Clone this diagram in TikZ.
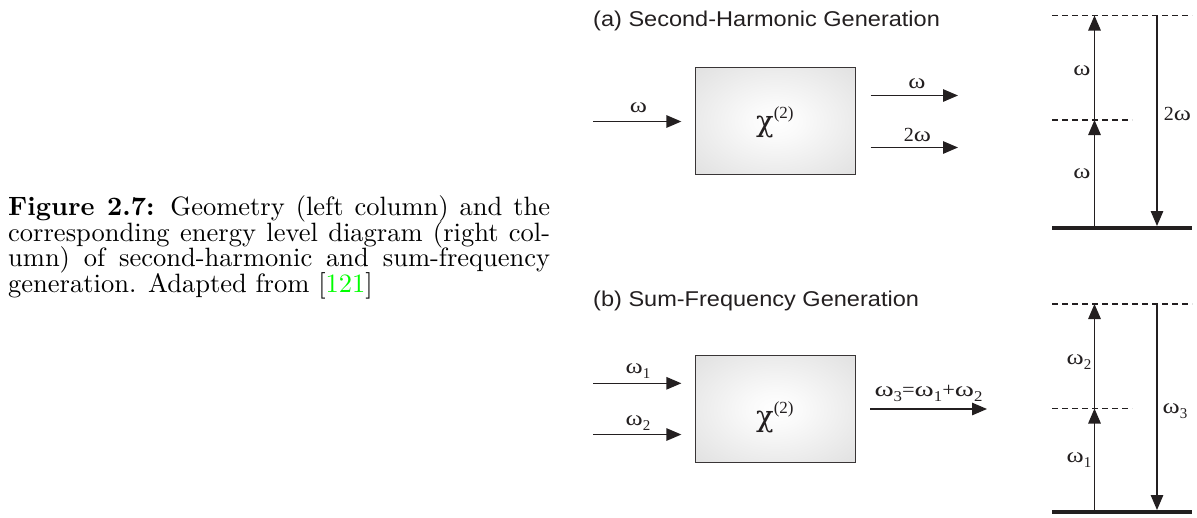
\documentclass[tikz,border=0pt]{standalone}
\usepackage{fontspec}
\usepackage{graphicx}
\newfontfamily\tnr{Liberation Serif}
\newfontfamily\dvs{DejaVu Serif}
\newfontfamily\arialf{Liberation Sans}
\newfontfamily\capfont{lmroman10-regular.otf}[BoldFont=lmroman10-bold.otf]
\usetikzlibrary{arrows.meta}
\definecolor{ink}{HTML}{231F20}
\definecolor{citegreen}{rgb}{0,1,0}
\pgfdeclareradialshading{boxshade}{\pgfpoint{0bp}{0bp}}{color(0bp)=(white); color(8bp)=(white!98!black); color(50bp)=(black!17); color(71bp)=(black!24)}
\newcommand{\sbs}[1]{\raisebox{-0.28em}{\fontsize{15}{15}\selectfont #1}}
\newcommand{\om}{\scalebox{1.3}[1.05]{ω}}
\tikzset{
  lab/.style={font=\tnr\fontsize{20}{22}\selectfont, text=ink, inner sep=0pt},
  ttl/.style={font=\arialf\fontsize{21.4}{24}\selectfont, text=ink, xscale=1.1, inner sep=0pt},
  chi/.style={font=\tnr\fontsize{17}{18}\selectfont, text=ink, inner sep=0pt},
  xbox/.style={draw=ink!90, line width=1.3pt, shading=boxshade, minimum width=160pt, minimum height=107pt, inner sep=0pt},
  arr/.style={draw=ink, line width=1.3pt, -{Triangle[length=15pt,width=12.5pt]}},
  lvl/.style={draw=ink, line width=1.3pt, dash pattern=on 6pt off 4pt},
  ground/.style={draw=ink, line width=4pt}
}
\newcommand{\chitwo}{{\dvs\fontsize{29}{30}\selectfont χ}\raisebox{13pt}{(2)}}
\begin{document}
\begin{tikzpicture}[x=1pt,y=-1pt]
\useasboundingbox (0,0) rectangle (1197,517);
% caption
\node[anchor=base west, inner sep=0pt] (cap) at (8,215.5) {\parbox[t]{542pt}{\capfont\fontsize{26.5}{25.5}\selectfont\lineskiplimit=-100pt\textbf{Figure 2.7:} Geometry (left column) and the\linebreak corresponding energy level diagram (right col-\linebreak umn) of second-harmonic and sum-frequency\linebreak generation. Adapted from [\textcolor{citegreen}{121}]}};

% ---------- (a) ----------
\node[ttl, anchor=base west] (ta) at (593,26.5) {(a) Second-Harmonic Generation};
\node[xbox] (boxa) at (775.5,121) {};
\node[chi, anchor=base west] (chia) at (756,131) {\chitwo};
\coordinate (ina) at (593,121.5);
\draw[arr, shorten >=13.5pt] (ina) -- (boxa.west |- ina);
\node[lab, anchor=base] (lina) at (638.5,112) {\om};
\coordinate (oa1) at (958,95.5);
\coordinate (oa2) at (958,147.5);
\draw[arr, shorten <=14.5pt] (boxa.east |- oa1) -- (oa1);
\draw[arr, shorten <=14.5pt] (boxa.east |- oa2) -- (oa2);
\node[lab, anchor=base] (loa1) at (917,88) {\om};
\node[lab, anchor=base] (loa2) at (917.5,141) {2\om};
% energy (a)
\coordinate (gaL) at (1052,228); \coordinate (gaR) at (1192,228);
\coordinate (taL) at (1052,15.5); \coordinate (taR) at (1192,15.5);
\coordinate (maL) at (1052,120); \coordinate (maR) at (1132,120);
\draw[lvl] (taL) -- (taR);
\draw[lvl] (maL) -- (maR);
\draw[ground] (gaL) -- (gaR);
\coordinate (ua0) at (1094.5,228); \coordinate (ua1) at (1094.5,120); \coordinate (ua2) at (1094.5,15.5);
\draw[arr] (ua0) -- (ua1);
\draw[arr] (ua1) -- (ua2);
\coordinate (da0) at (1157,15.5); \coordinate (da1) at (1157,226);
\draw[arr] (da0) -- (da1);
\node[lab, anchor=base] (lea1) at (1082,75) {\om};
\node[lab, anchor=base] (lea2) at (1082,178) {\om};
\node[lab, anchor=base] (lea3) at (1177.5,120) {2\om};

% ---------- (b) ----------
\node[ttl, anchor=base west] (tb) at (593,306.5) {(b) Sum-Frequency Generation};
\node[xbox] (boxb) at (775.5,409.3) {};
\node[chi, anchor=base west] (chib) at (756,426) {\chitwo};
\coordinate (inb1) at (593,383.3);
\coordinate (inb2) at (593,434.5);
\draw[arr, shorten >=13.5pt] (inb1) -- (boxb.west |- inb1);
\draw[arr, shorten >=13.5pt] (inb2) -- (boxb.west |- inb2);
\node[lab, anchor=base] (linb1) at (638,373) {\om\sbs{1}};
\node[lab, anchor=base] (linb2) at (638,425) {\om\sbs{2}};
\coordinate (ob) at (987,409);
\draw[arr, shorten <=14pt] (boxb.east |- ob) -- (ob);
\node[lab, anchor=base, xscale=1.12] (lob) at (928.5,396) {\om\sbs{3}=\om\sbs{1}+\om\sbs{2}};
% energy (b)
\coordinate (gbL) at (1052,512); \coordinate (gbR) at (1192,512);
\coordinate (tbL) at (1052,304); \coordinate (tbR) at (1192,304);
\coordinate (mbL) at (1052,408.5); \coordinate (mbR) at (1132,408.5);
\draw[lvl] (tbL) -- (tbR);
\draw[lvl] (mbL) -- (mbR);
\draw[ground] (gbL) -- (gbR);
\coordinate (ub0) at (1094.5,512); \coordinate (ub1) at (1094.5,408.5); \coordinate (ub2) at (1094.5,304);
\draw[arr] (ub0) -- (ub1);
\draw[arr] (ub1) -- (ub2);
\coordinate (db0) at (1157,304); \coordinate (db1) at (1157,510);
\draw[arr] (db0) -- (db1);
\node[lab, anchor=base] (leb1) at (1079,364) {\om\sbs{2}};
\node[lab, anchor=base] (leb2) at (1079,462) {\om\sbs{1}};
\node[lab, anchor=base] (leb3) at (1175,413) {\om\sbs{3}};
\end{tikzpicture}
\end{document}
